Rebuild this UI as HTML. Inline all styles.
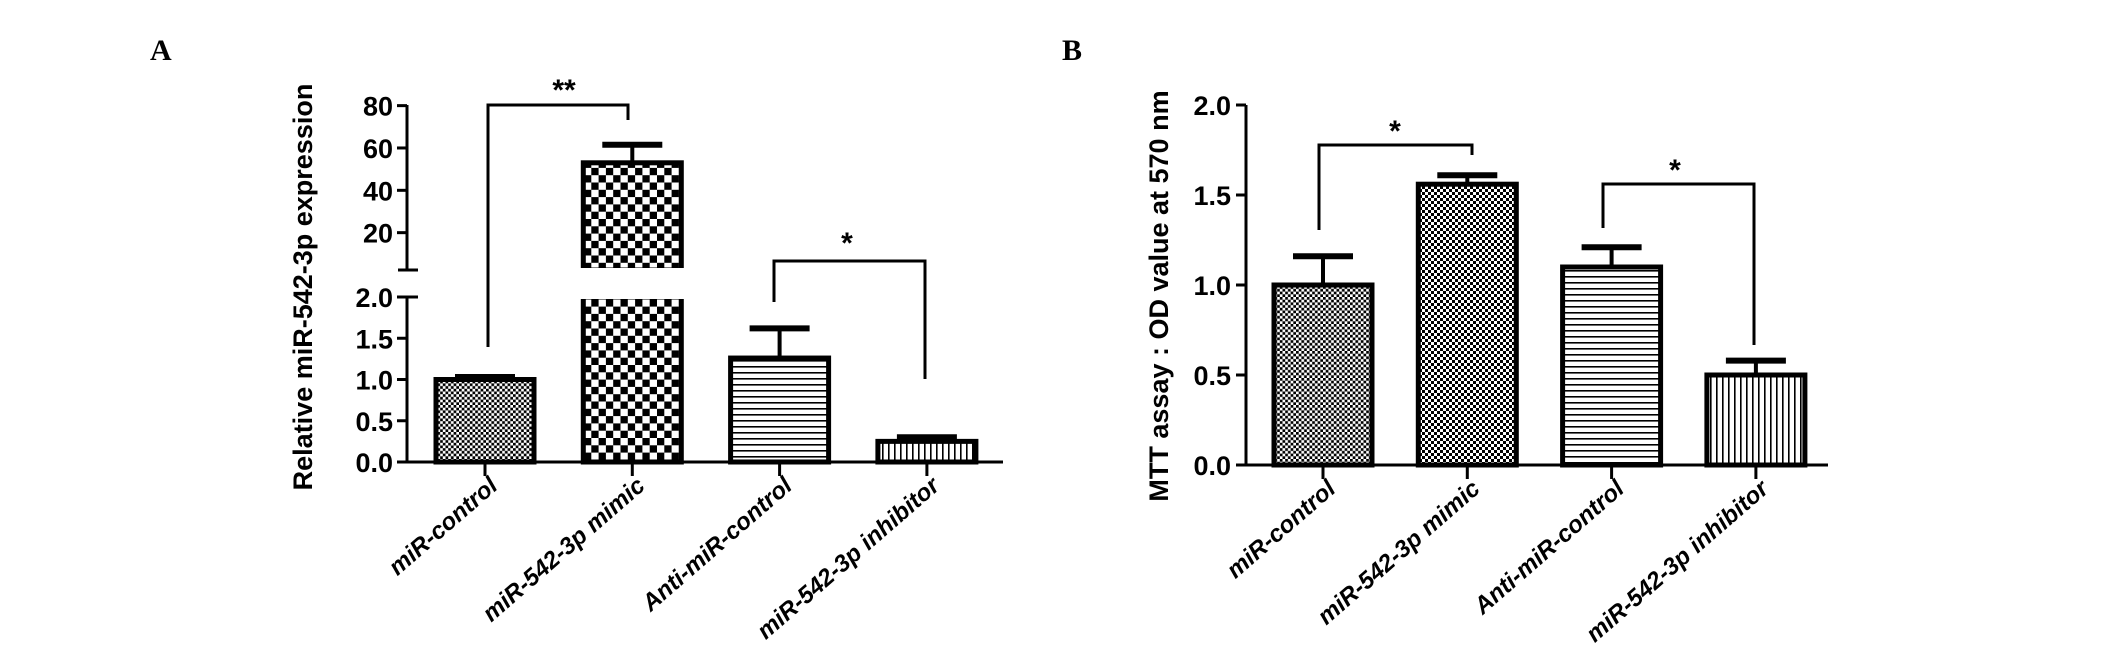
<!DOCTYPE html>
<html><head><meta charset="utf-8"><style>
html,body{margin:0;padding:0;background:#fff;}
svg{display:block;}
text{font-family:"Liberation Sans",sans-serif;font-weight:bold;fill:#000;}
</style></head><body>
<svg id="fig" width="2126" height="655" viewBox="0 0 2126 655" xmlns="http://www.w3.org/2000/svg">
<defs>
<pattern id="pFine" width="5.4" height="5.4" patternUnits="userSpaceOnUse"><rect width="5.4" height="5.4" fill="#fff"/><rect width="2.7" height="2.7" fill="#000"/><rect x="2.7" y="2.7" width="2.7" height="2.7" fill="#000"/></pattern>
<pattern id="pBig" width="14.6" height="14.6" patternUnits="userSpaceOnUse"><rect width="14.6" height="14.6" fill="#fff"/><rect width="7.3" height="7.3" fill="#000"/><rect x="7.3" y="7.3" width="7.3" height="7.3" fill="#000"/></pattern>
<pattern id="pMid" width="6" height="6" patternUnits="userSpaceOnUse"><rect width="6" height="6" fill="#fff"/><rect width="3" height="3" fill="#000"/><rect x="3" y="3" width="3" height="3" fill="#000"/></pattern>
<pattern id="pH" width="6" height="6" patternUnits="userSpaceOnUse"><rect width="6" height="6" fill="#fff"/><rect width="6" height="1.6" fill="#000"/></pattern>
<pattern id="pV" width="6" height="6" patternUnits="userSpaceOnUse"><rect width="6" height="6" fill="#fff"/><rect width="1.6" height="6" fill="#000"/></pattern>
</defs>
<text x="150" y="60" font-size="30" style="font-family:'Liberation Serif',serif">A</text>
<text x="1062" y="60" font-size="30" style="font-family:'Liberation Serif',serif">B</text>
<g id="A"></g><g id="B"></g>
</svg>
<script>
const categories = ["miR-control","miR-542-3p mimic","Anti-miR-control","miR-542-3p inhibitor"];
const valuesA = [1.0, 53, 1.26, 0.25];
const errorsA = [0.03, 8.5, 0.36, 0.05];
const valuesB = [1.0, 1.56, 1.1, 0.5];
const errorsB = [0.16, 0.05, 0.11, 0.08];
const ticksALow = [0.0, 0.5, 1.0, 1.5, 2.0];
const ticksAHigh = [20, 40, 60, 80];
const ticksB = [0.0, 0.5, 1.0, 1.5, 2.0];
const fillsA = ["pFine","pBig","pH","pV"];
const fillsB = ["pFine","pMid","pH","pV"];

const NS="http://www.w3.org/2000/svg";
function mk(parent,tag,attrs){const e=document.createElementNS(NS,tag);for(const k in attrs)e.setAttribute(k,attrs[k]);parent.appendChild(e);return e;}
function line(p,x1,y1,x2,y2,w,name){const e=mk(p,'line',{x1:x1,y1:y1,x2:x2,y2:y2,stroke:'#000','stroke-width':w});return e;}

const aLow = v => 462 - v*82.5;
const aHigh = v => 275 - v*2.117;
const aX = i => 485 + i*147.3;
const gA=document.getElementById('A');
line(gA,407,462,407,296,3,'a-y-axis-lower');
line(gA,407,270,407,105,3,'a-y-axis-upper');
line(gA,398,270,418,270,3,'a-y-axis-break-cap');
line(gA,398,297,418,297,3,'a-y-axis-break-cap2');
line(gA,400,462,1003,462,3,'a-x-axis');
ticksALow.forEach(t=>{const y=aLow(t);line(gA,397,y,407,y,3,'a-y-tick');const tx=mk(gA,'text',{x:393,y:y+10,'font-size':27,'text-anchor':'end'});tx.textContent=t.toFixed(1);});
ticksAHigh.forEach(t=>{const y=aHigh(t);line(gA,397,y,407,y,3,'a-y-tick');const tx=mk(gA,'text',{x:393,y:y+10,'font-size':27,'text-anchor':'end'});tx.textContent=String(t);});
categories.forEach((c,i)=>{
  const cx=aX(i), w=98, x=cx-w/2, v=valuesA[i], e=errorsA[i];
  line(gA,cx,462,cx,476,3,'a-x-tick');
  if(v<=2){
    const top=aLow(v);
    const r=mk(gA,'rect',{x:x,y:top,width:w,height:462-top,fill:'url(#'+fillsA[i]+')',stroke:'#000','stroke-width':5});
    
    const et=aLow(v+e);
    line(gA,cx,top,cx,et,4,'a-error-bar');line(gA,cx-30,et,cx+30,et,6,'a-error-cap');
  } else {
    const r1=mk(gA,'rect',{x:x,y:297,width:w,height:165,fill:'url(#'+fillsA[i]+')',stroke:'#000','stroke-width':5});
    
    mk(gA,'rect',{x:x-4,y:291,width:w+8,height:8,fill:'#fff'});
    const top=aHigh(v);
    const r2=mk(gA,'rect',{x:x,y:top,width:w,height:270-top,fill:'url(#'+fillsA[i]+')',stroke:'#000','stroke-width':5});
    
    mk(gA,'rect',{x:x-4,y:268,width:w+8,height:6,fill:'#fff'});
    const et=aHigh(v+e);
    line(gA,cx,top,cx,et,4,'a-error-bar');line(gA,cx-30,et,cx+30,et,6,'a-error-cap');
  }
  const lb=mk(gA,'text',{x:0,y:0,'font-size':24,'text-anchor':'end','font-style':'italic',transform:'translate('+(cx+14)+',488) rotate(-41)'});
  lb.textContent=c;
});
let p=mk(gA,'polyline',{points:'488,347 488,105 628,105 628,120',fill:'none',stroke:'#000','stroke-width':3});
let s=mk(gA,'text',{x:564,y:100,'font-size':30,'text-anchor':'middle'});s.textContent='**';
p=mk(gA,'polyline',{points:'774,302 774,261 925,261 925,379',fill:'none',stroke:'#000','stroke-width':3});
s=mk(gA,'text',{x:847,y:253,'font-size':30,'text-anchor':'middle'});s.textContent='*';
let yt=mk(gA,'text',{x:0,y:0,'font-size':27,'text-anchor':'middle',transform:'translate(312,287) rotate(-90)'});yt.textContent='Relative miR-542-3p expression';

const bY = v => 465 - v*180;
const bX = i => 1323 + i*144.3;
const gB=document.getElementById('B');
line(gB,1246,465,1246,105,3,'b-y-axis');
line(gB,1243,465,1828,465,3,'b-x-axis');
ticksB.forEach(t=>{const y=bY(t);line(gB,1236,y,1246,y,3,'b-y-tick');const tx=mk(gB,'text',{x:1231,y:y+10,'font-size':27,'text-anchor':'end'});tx.textContent=t.toFixed(1);});
categories.forEach((c,i)=>{
  const cx=bX(i), w=98, x=cx-w/2, v=valuesB[i], e=errorsB[i];
  line(gB,cx,465,cx,479,3,'b-x-tick');
  const top=bY(v);
  const r=mk(gB,'rect',{x:x,y:top,width:w,height:465-top,fill:'url(#'+fillsB[i]+')',stroke:'#000','stroke-width':5});
  
  const et=bY(v+e);
  line(gB,cx,top,cx,et,4,'b-error-bar');line(gB,cx-30,et,cx+30,et,6,'b-error-cap');
  const lb=mk(gB,'text',{x:0,y:0,'font-size':24,'text-anchor':'end','font-style':'italic',transform:'translate('+(cx+14)+',491) rotate(-41)'});
  lb.textContent=c;
});
p=mk(gB,'polyline',{points:'1319,230 1319,145 1472,145 1472,155',fill:'none',stroke:'#000','stroke-width':3});
s=mk(gB,'text',{x:1395,y:141,'font-size':30,'text-anchor':'middle'});s.textContent='*';
p=mk(gB,'polyline',{points:'1603,228 1603,184 1754,184 1754,345',fill:'none',stroke:'#000','stroke-width':3});
s=mk(gB,'text',{x:1675,y:180,'font-size':30,'text-anchor':'middle'});s.textContent='*';
yt=mk(gB,'text',{x:0,y:0,'font-size':27,'text-anchor':'middle',transform:'translate(1168,296) rotate(-90)'});yt.textContent='MTT assay : OD value at 570 nm';
</script>
</body></html>
